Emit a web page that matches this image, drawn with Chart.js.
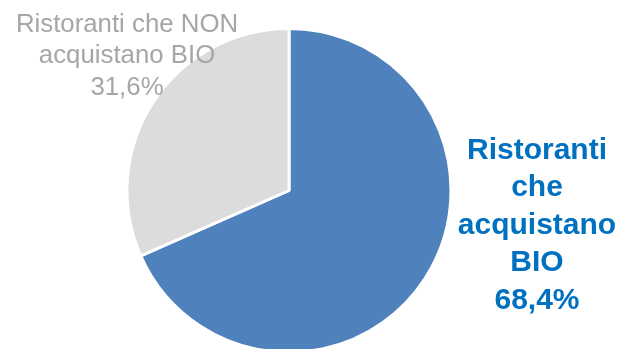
<!DOCTYPE html>
<html>
<head>
<meta charset="utf-8">
<script src="https://cdn.jsdelivr.net/npm/chart.js@4/dist/chart.umd.min.js"></script>
<style>
  html, body { margin: 0; padding: 0; background: #ffffff; overflow: hidden; }
  #wrap { width: 626px; height: 349px; overflow: hidden; position: relative; }
  canvas { display: block; }
</style>
</head>
<body>
<div id="wrap"><canvas id="c" width="626" height="360"></canvas></div>
<script>
// Share of restaurants buying organic products
const categories = ['Ristoranti che acquistano BIO', 'Ristoranti che NON acquistano BIO'];
const shares = [68.4, 31.6];
const sliceColors = ['#4f81bd', '#dcdcdc'];
const labelColors = ['#0070c0', '#a6a6a6'];
// Label lines for each slice (the last line holds the value)
const labelLines = [
  ['Ristoranti', 'che', 'acquistano', 'BIO'],
  ['Ristoranti che NON', 'acquistano BIO']
];

const fmt = v => v.toFixed(1).replace('.', ',') + '%';

// Draws the multi-line slice labels beside the pie
const sliceLabels = {
  id: 'sliceLabels',
  afterDraw(chart) {
    const ctx = chart.ctx;
    const meta = chart.getDatasetMeta(0);
    const ds = chart.data.datasets[0];
    meta.data.forEach((arc, i) => {
      const lines = labelLines[i].concat([fmt(ds.data[i])]);
      const r = arc.outerRadius;
      let x, y0, lh, font;
      if (i === 0) {
        x = arc.x + r + 86;
        y0 = arc.y - 32;
        lh = 37.5;
        font = 'bold 30px "Liberation Sans", Arial, sans-serif';
      } else {
        x = arc.x - 162;
        y0 = arc.y - 159;
        lh = 31.5;
        font = '25.8px "Liberation Sans", Arial, sans-serif';
      }
      ctx.save();
      ctx.font = font;
      ctx.fillStyle = labelColors[i];
      ctx.textAlign = 'center';
      ctx.textBaseline = 'alphabetic';
      lines.forEach((t, k) => ctx.fillText(t, x, y0 + k * lh));
      ctx.restore();
    });
  }
};

new Chart(document.getElementById('c'), {
  type: 'pie',
  data: {
    labels: categories,
    datasets: [{
      data: shares,
      backgroundColor: sliceColors,
      borderColor: '#ffffff',
      borderWidth: 3,
      hoverOffset: 0
    }]
  },
  options: {
    responsive: false,
    animation: false,
    layout: { padding: { left: 125, right: 173, top: 27, bottom: 6 } },
    plugins: {
      legend: { display: false },
      tooltip: { enabled: false }
    }
  },
  plugins: [sliceLabels]
});
</script>
</body>
</html>
